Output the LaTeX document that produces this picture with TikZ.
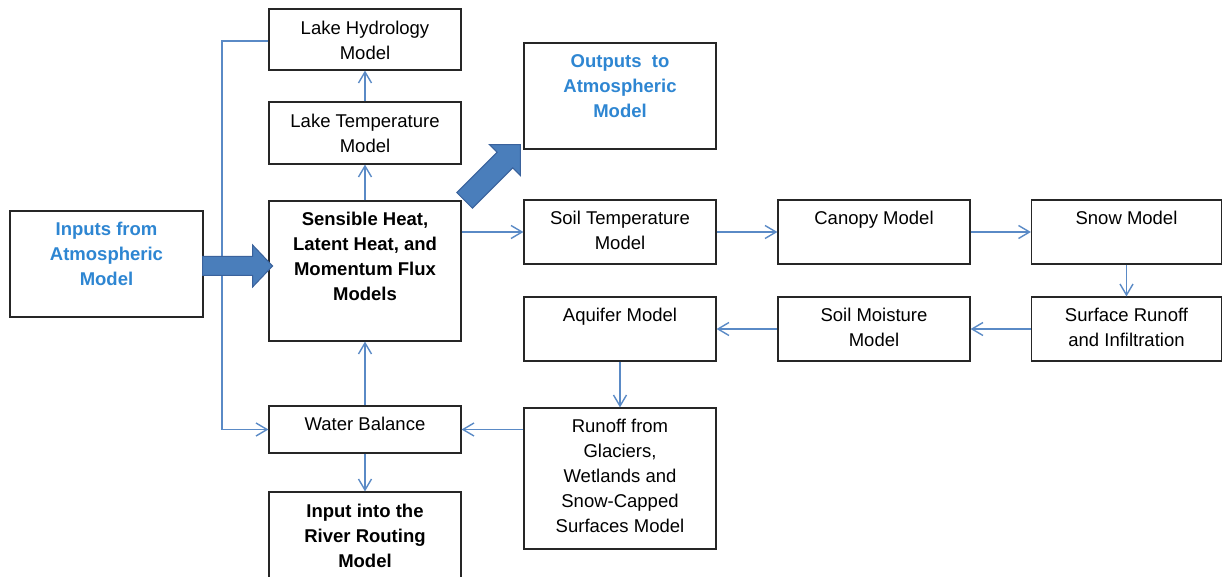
\documentclass[tikz,border=0pt]{standalone}
\usepackage{fontspec}
\setmainfont{Liberation Sans}
\usetikzlibrary{arrows.meta,calc}

\definecolor{linkblue}{RGB}{90,138,198}
\definecolor{textblue}{RGB}{46,134,210}
\definecolor{arrowfill}{RGB}{74,126,187}
\definecolor{arrowedge}{RGB}{58,98,156}

\begin{document}
\begin{tikzpicture}[x=1pt,y=-1pt,
  box/.style={draw=black!85,line width=1.2pt,fill=white,rectangle,inner sep=0pt,
              minimum width=192pt},
  txt/.style={anchor=north,align=center,inner sep=0pt,
              execute at begin node={\rule{0pt}{13.5pt}},
              font=\fontsize{18.5}{25}\selectfont},
  hot/.style={txt,font=\fontsize{18.5}{25}\selectfont\bfseries},
  link/.style={draw=linkblue,line width=1.4pt,
               -{Straight Barb[length=11pt,width=13pt,line width=1.4pt]}},
  fatarrow/.style={fill=arrowfill,draw=arrowedge,line width=1pt,line join=miter}]

\clip (0,0) rectangle (1223,577);
\fill[white] (0,0) rectangle (1223,577);

% ---- boxes (frame first, caption hung from the top edge) ----
\node[box,minimum height=61pt]  (LH)   at (365,39.5)  {};
\node[box,minimum height=62pt]  (LT)   at (365,133)   {};
\node[box,minimum height=140pt] (SH)   at (365,271)   {};
\node[box,minimum height=106pt,minimum width=193pt] (IN) at (106.5,264) {};
\node[box,minimum height=106pt] (OUT)  at (620,96)    {};
\node[box,minimum height=64pt]  (ST)   at (620,232)   {};
\node[box,minimum height=64pt]  (CAN)  at (874,232)   {};
\node[box,minimum height=64pt,minimum width=190pt] (SNOW) at (1126.5,232) {};
\node[box,minimum height=64pt,minimum width=190pt] (SR)   at (1126.5,329) {};
\node[box,minimum height=64pt]  (SM)   at (874,329)   {};
\node[box,minimum height=64pt]  (AQ)   at (620,329)   {};
\node[box,minimum height=141pt] (RG)   at (620,478.5) {};
\node[box,minimum height=47pt]  (WB)   at (365,429.5) {};
\node[box,minimum height=110pt] (IR)   at (365,547)   {};

\node[txt] (LH-t)   at ([yshift=-12.5pt]LH.north)   {Lake Hydrology\\Model};
\node[txt] (LT-t)   at ([yshift=-12.5pt]LT.north)   {Lake Temperature\\Model};
\node[hot] (SH-t)   at ([yshift=-11.5pt]SH.north)   {Sensible Heat,\\Latent Heat, and\\Momentum Flux\\Models};
\node[hot,text=textblue] (IN-t)  at ([yshift=-11.5pt]IN.north)  {Inputs from\\Atmospheric\\Model};
\node[hot,text=textblue] (OUT-t) at ([yshift=-11.5pt]OUT.north) {Outputs\ \ to\\Atmospheric\\Model};
\node[txt] (ST-t)   at ([yshift=-11.5pt]ST.north)   {Soil Temperature\\Model};
\node[txt] (CAN-t)  at ([yshift=-11.5pt]CAN.north)  {Canopy Model};
\node[txt] (SNOW-t) at ([yshift=-11.5pt]SNOW.north) {Snow Model};
\node[txt] (SR-t)   at ([yshift=-11.5pt]SR.north)   {Surface Runoff\\and Infiltration};
\node[txt] (SM-t)   at ([yshift=-11.5pt]SM.north)   {Soil Moisture\\Model};
\node[txt] (AQ-t)   at ([yshift=-11.5pt]AQ.north)   {Aquifer Model};
\node[txt] (RG-t)   at ([yshift=-11.5pt]RG.north)   {Runoff from\\Glaciers,\\Wetlands and\\Snow-Capped\\Surfaces Model};
\node[txt] (WB-t)   at ([yshift=-11.5pt]WB.north)   {Water Balance};
\node[hot] (IR-t)   at ([yshift=-12.5pt]IR.north)   {Input into the\\River Routing\\Model};

% ---- thin connectors ----
\coordinate (bend) at (222,0);
\draw[link] ([yshift=-1.5pt]LH.west) -- ([yshift=-1.5pt]LH.west -| bend) -- (bend |- WB.west) -- (WB.west);
\draw[link] (LT.north) -- (LH.south);
\draw[link] (SH.north) -- (LT.south);
\draw[link] (WB.north) -- (SH.south);
\draw[link] (WB.south) -- (IR.north);
\draw[link] (SH.east |- ST.west) -- (ST.west);
\draw[link] (ST.east) -- (CAN.west);
\draw[link] (CAN.east) -- (SNOW.west);
\draw[link] (SNOW.south) -- (SR.north);
\draw[link] (SR.west) -- (SM.east);
\draw[link] (SM.west) -- (AQ.east);
\draw[link] (AQ.south) -- (RG.north);
\draw[link] (RG.west |- WB.east) -- (WB.east);

% ---- thick block arrows ----
\begin{scope}[shift={([xshift=-1pt,yshift=-2pt]IN.east)}]
  \filldraw[fatarrow] (0,-9.5) -- (50,-9.5) -- (50,-21) -- (70,0)
        -- (50,21) -- (50,9.5) -- (0,9.5) -- cycle;
\end{scope}
\begin{scope}[shift={([xshift=3pt]SH.north east)},rotate=45]
  \filldraw[fatarrow] (0,-11) -- (57,-11) -- (57,-22) -- (79,0)
        -- (57,22) -- (57,11) -- (0,11) -- cycle;
\end{scope}

\end{tikzpicture}
\end{document}
